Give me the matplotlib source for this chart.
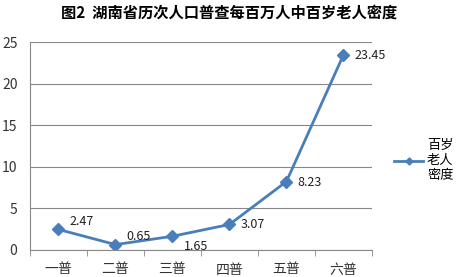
import numpy as np
import matplotlib
matplotlib.use("Agg")
import matplotlib.pyplot as plt

plt.rcParams['font.family'] = ['Noto Sans CJK SC', 'DejaVu Sans']

categories = ["一普", "二普", "三普", "四普", "五普", "六普"]
density = [2.47, 0.65, 1.65, 3.07, 8.23, 23.45]
label_offsets = [(8, 1), (8, 1), (8, -12), (8, -5), (8, -5), (8, -5)]

fig = plt.figure(figsize=(4.58, 2.77), dpi=100, facecolor="white")
ax = fig.add_axes([0.0655, 0.0975, 0.7465, 0.7505])

x = np.arange(len(categories))
col = "#4A7EBB"
ax.plot(x, density, color=col, lw=2, marker="D", ms=6, label="百岁\n老人\n密度")
for xi, v, off in zip(x, density, label_offsets):
    ax.annotate(f"{v:.2f}", (xi, v), xytext=off, textcoords="offset points",
                fontsize=9, color="#222222", va="bottom")

ax.set_xlim(-0.5, len(categories) - 0.5)
ax.set_ylim(0, 25)
ax.set_yticks(range(0, 26, 5))
ax.set_xticks(x)
ax.set_xticklabels(categories, fontsize=10, color="#333333")
ax.set_xticks(np.arange(-0.5, len(categories), 1), minor=True)
ax.tick_params(axis="x", which="major", length=0, pad=9)
ax.tick_params(axis="x", which="minor", length=4, color="#888888")
ax.tick_params(axis="y", length=0, labelsize=10, labelcolor="#333333", pad=9)
ax.grid(axis="y", color="#888888", lw=0.8)
ax.set_axisbelow(True)
for s in ["top", "right"]:
    ax.spines[s].set_visible(False)
for s in ["left", "bottom"]:
    ax.spines[s].set_color("#888888")

ax.legend(loc="center left", bbox_to_anchor=(1.03, 0.43), frameon=False,
          fontsize=9.5, handlelength=2.2, handletextpad=0.3, markerscale=0.6)
fig.suptitle("图2  湖南省历次人口普查每百万人中百岁老人密度", fontsize=11,
             fontweight="bold", x=0.5, y=0.985)

fig.savefig("out.png", dpi=100)
